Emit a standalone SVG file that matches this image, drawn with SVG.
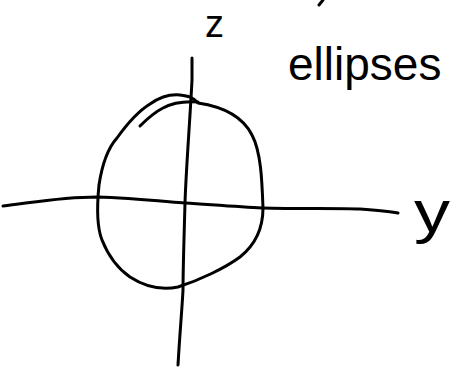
<svg xmlns="http://www.w3.org/2000/svg" width="457" height="371" viewBox="0 0 457 371">
<style>
.s{fill:none;stroke:#000;stroke-width:3;stroke-linecap:round;stroke-linejoin:round}
.t{font-family:"Liberation Sans","DejaVu Sans",sans-serif;fill:#000}
</style>
<rect width="457" height="371" fill="#fff"/>
<g id="connectors">
<path id="z-axis" class="s" d="M192,58 L192,80 C190,120 186,170 185,203 C184,240 183,270 183,290 C182,310 180,330 178,365"/>
<path id="y-axis" class="s" d="M3,206 C30,203 60,197 97,197 C130,198 160,201 185,203 C215,205 240,207 262,208 C300,209 340,208 360,209 C375,210 388,211 398,213"/>
</g>
<g id="ellipse">
<path class="s" d="M198,103 C225,107 243,117 252,135 C261,152 262,180 263,208 C263,230 255,245 240,257 C225,268 200,280 178,287 C168,289 150,290 130,277 C117,268 108,255 102,240 C96,225 97,205 99,185 C102,165 108,148 117,138 C127,124 137,112 150,104 C160,97 170,94 180,95 C188,96 193,97 198,103 Z"/>
<path class="s" d="M140,126 C148,118 155,112 163,108 C172,103 182,101 198,102"/>
</g>
<g id="label-z"><text class="t" x="205" y="37" font-size="38">z</text></g>
<g id="label-ellipses"><text class="t" x="288" y="80" font-size="46">ellipses</text></g>
<g id="label-y"><text class="t" x="414" y="232" font-size="60" textLength="36" lengthAdjust="spacingAndGlyphs">y</text></g>
<path class="s" d="M323,0 L319,5"/>
</svg>
